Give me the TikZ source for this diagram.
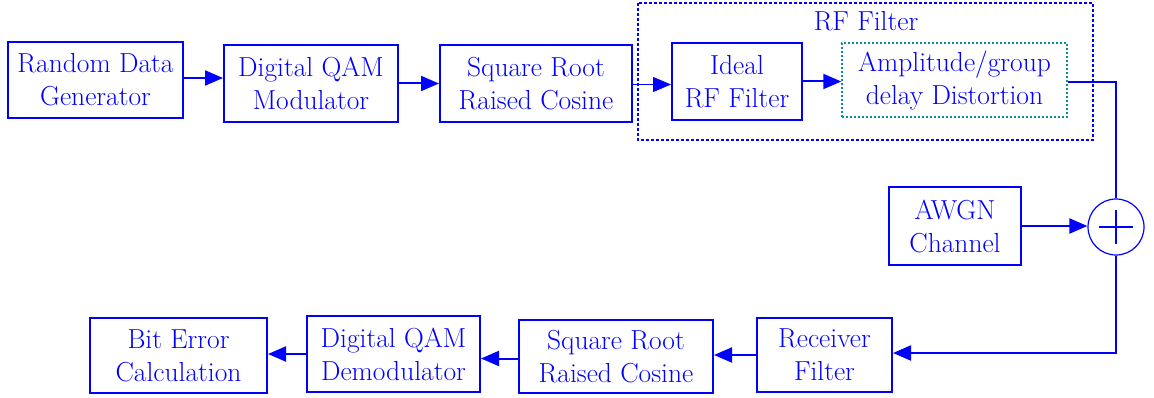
\documentclass[tikz,border=0pt]{standalone}
\usetikzlibrary{arrows.meta}
\definecolor{bblue}{RGB}{0,0,255}
\definecolor{teal2}{RGB}{0,150,140}
\begin{document}
\begin{tikzpicture}[x=1pt,y=-1pt,
  blk/.style={draw=bblue,line width=2pt,text=bblue,align=center,inner sep=0pt,
    font=\rmfamily\fontsize{27.5}{33}\selectfont},
  conn/.style={draw=bblue,line width=2pt,-{Triangle[length=18pt,width=15pt]}},
  plain/.style={draw=bblue,line width=2pt}]
\useasboundingbox (0,0) rectangle (1154,398);
% RF filter group
\draw[bblue,line width=1.3pt,dash pattern=on 3pt off 2pt] (638,3) rectangle (1093,140);
\node[text=bblue,font=\rmfamily\fontsize{27.5}{33}\selectfont] (rflbl) at (866,21) {RF Filter};
% top row
\node[blk,minimum width=175pt,minimum height=76pt] (rdg) at (95.5,80) {Random Data\\Generator};
\node[blk,minimum width=174pt,minimum height=77pt] (dqm) at (311,83.5) {Digital QAM\\Modulator};
\node[blk,minimum width=192pt,minimum height=77pt] (sr1) at (536,83.5) {Square Root\\Raised Cosine};
\node[blk,minimum width=130pt,minimum height=77pt] (ideal) at (737,81.5) {Ideal\\RF Filter};
\node[blk,draw=teal2,line width=1.5pt,dash pattern=on 2pt off 2pt,minimum width=225pt,minimum height=74pt] (amp) at (954.5,80) {Amplitude/group\\delay Distortion};
% middle
\node[blk,minimum width=132pt,minimum height=78pt] (awgn) at (955,226) {AWGN\\Channel};
\node[circle,draw=bblue,line width=1.2pt,minimum size=56pt,inner sep=0pt] (sum) at (1116,227) {};
\draw[bblue,line width=1.2pt] ([xshift=-17pt]sum.center) -- ([xshift=17pt]sum.center)
  ([yshift=-17pt]sum.center) -- ([yshift=17pt]sum.center);
% bottom row
\node[blk,minimum width=135pt,minimum height=74pt] (recv) at (824.5,355) {Receiver\\Filter};
\node[blk,minimum width=194pt,minimum height=73pt] (sr2) at (616,356.5) {Square Root\\Raised Cosine};
\node[blk,minimum width=173pt,minimum height=76pt] (demod) at (393.5,354) {Digital QAM\\Demodulator};
\node[blk,minimum width=177pt,minimum height=75pt] (biterr) at (178.5,355.5) {Bit Error\\Calculation};
% connectors
\draw[conn] ([yshift=2pt]rdg.east) -- ([yshift=2pt]rdg.east -| dqm.west);
\draw[conn] (dqm.east) -- (dqm.east -| sr1.west);
\draw[conn,line width=1.2pt] ([yshift=-1pt]sr1.east) -- ([yshift=-1pt]sr1.east -| ideal.west);
\draw[conn] (ideal.east) -- (ideal.east -| amp.west);
\draw[plain] ([yshift=-2pt]amp.east) -- ([yshift=-2pt]amp.east -| sum.north) -- (sum.north);
\draw[conn] (awgn.east) -- (awgn.east -| sum.west);
\coordinate (turn) at (1116,353);
\draw[conn] (sum.south) -- (turn) -- (turn -| recv.east);
\draw[conn] (recv.west) -- (recv.west -| sr2.east);
\draw[conn] ([yshift=-2pt]sr2.west) -- ([yshift=-2pt]sr2.west -| demod.east);
\draw[conn] (demod.west) -- (demod.west -| biterr.east);
\end{tikzpicture}
\end{document}
